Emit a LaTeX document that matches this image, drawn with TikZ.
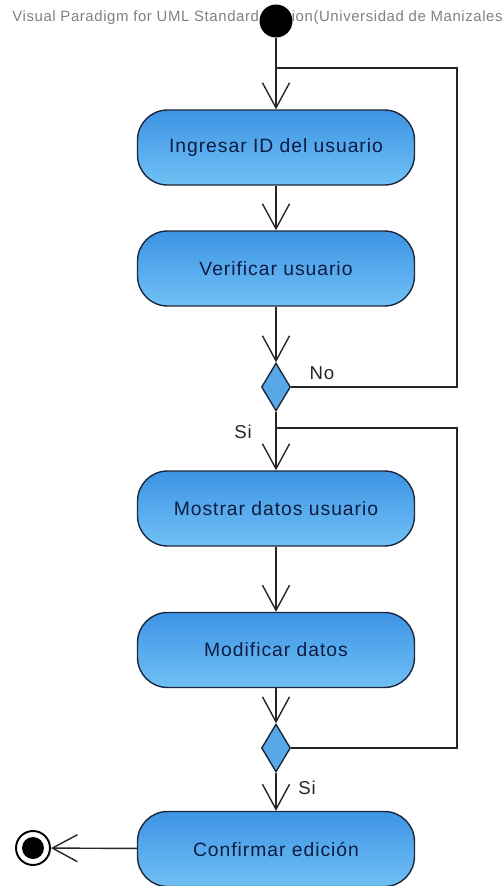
\documentclass[tikz,border=0pt]{standalone}
\usepackage{fontspec}
\usetikzlibrary{shapes.geometric, arrows.meta}
\newfontfamily\vpfont[LetterSpace=5]{Liberation Sans}
\newfontfamily\headfont[LetterSpace=4]{Liberation Sans}
\definecolor{vpline}{RGB}{28,40,62}
\definecolor{vptop}{RGB}{62,148,228}
\definecolor{vpbot}{RGB}{112,192,245}
\definecolor{vpdiam}{RGB}{88,168,232}
\definecolor{vptext}{RGB}{14,28,66}

\begin{document}
\begin{tikzpicture}[x=0.02cm, y=-0.02cm,
    action/.style={draw=vpline, line width=0.8pt, rounded corners=0.6cm,
      minimum width=5.54cm, minimum height=1.5cm, top color=vptop,
      bottom color=vpbot, text=vptext,
      font=\vpfont\fontsize{11}{13}\selectfont},
    choice/.style={diamond, draw=vpline, fill=vpdiam, line width=0.8pt,
      minimum width=0.58cm, minimum height=0.96cm, inner sep=0pt},
    guard/.style={text=black!85, font=\vpfont\fontsize{10.6}{12}\selectfont},
    flow/.style={draw=black!85, line width=0.8pt},
    flowarrow/.style={-{Straight Barb[length=0.5cm, width=0.54cm]}}]
  \useasboundingbox (0,0) rectangle (503,886);
  % Header
  \node[anchor=west, inner sep=0pt, text=black!50, font=\headfont\fontsize{8.5}{10}\selectfont]
      (title) at (12,18) {Visual Paradigm for UML Standard Edition(Universidad de Manizales};
  % Start and end
  \node[circle, fill=black, minimum size=0.66cm, inner sep=0pt] (start) at (276,21) {};
  \node[circle, draw=black, line width=1.1pt, minimum size=0.68cm, inner sep=0pt] (final) at (33,848) {};
  \node[circle, fill=black, minimum size=0.44cm, inner sep=0pt] (finaldot) at (final) {};
  % Activities
  \node[action] (act1) at (276,147.5) {Ingresar ID del usuario};
  \node[action] (act2) at (276,268.5) {Verificar usuario};
  \node[action] (act3) at (276,508.5) {Mostrar datos usuario};
  \node[action] (act4) at (276,650) {Modificar datos};
  \node[action] (act5) at (276,849) {Confirmar edición};
  % Decisions
  \node[choice] (dec1) at (276,387) {};
  \node[choice] (dec2) at (276,748) {};
  % Guards
  \node[guard] (no) at (322,373) {No};
  \node[guard] (si1) at (243,432) {Si};
  \node[guard] (si2) at (307,788) {Si};
  % Loop joins
  \coordinate (j1) at (276,68);
  \coordinate (r1) at (457,68);
  \coordinate (j2) at (276,428);
  \coordinate (r2) at (457,428);
  % Flows
  \draw[flow, flowarrow] (start) -- (act1);
  \draw[flow, flowarrow] (act1) -- (act2);
  \draw[flow, flowarrow] (act2) -- (dec1);
  \draw[flow] (dec1.east) -| (r1) -- (j1);
  \draw[flow, flowarrow] (dec1) -- (act3);
  \draw[flow, flowarrow] (act3) -- (act4);
  \draw[flow, flowarrow] (act4) -- (dec2);
  \draw[flow] (dec2.east) -| (r2) -- (j2);
  \draw[flow, flowarrow] (dec2) -- (act5);
  \draw[flow, flowarrow] (act5) -- (final);
\end{tikzpicture}
\end{document}
